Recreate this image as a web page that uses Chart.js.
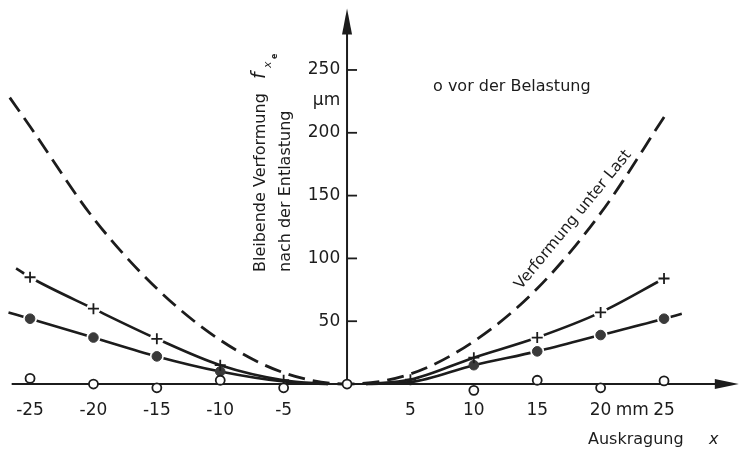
<!DOCTYPE html>
<html>
<head>
<meta charset="utf-8">
<script src="https://cdn.jsdelivr.net/npm/chart.js@4/dist/chart.umd.min.js"></script>
<style>
html, body { margin: 0; padding: 0; background: #fff; }
canvas { display: block; }
</style>
</head>
<body>
<canvas id="chart" width="742" height="452"></canvas>
<script>
// Achsenbeschriftung
const xTickValues = [-25, -20, -15, -10, -5, 5, 10, 15, 20, 25]
const yTickValues = [50, 100, 150, 200, 250]

// Verformung unter Last (gestrichelte Kurve)
const lastX = [-26.6, -25, -20, -15, -10, -5, 0, 5, 10, 15, 20, 25.1]
const lastY = [228, 205, 132, 76, 35, 9, 0, 8, 34, 76, 136, 214]

// Kreuze (+)
const plusX = [-25, -20, -15, -10, -5, 5, 10, 15, 20, 25]
const plusY = [85, 60, 36, 15, 3, 3.5, 21, 37, 57, 84]
// Linie durch die Kreuze (mit Auslauf)
const plusLineX = [-26.1, -25, -20, -15, -10, -5, -1.5, null, 1.5, 5, 10, 15, 20, 25]
const plusLineY = [92, 85, 60, 36, 15, 3, 0, null, 0, 3.5, 21, 37, 57, 84]

// Punkte (gefüllt)
const dotX = [-25, -20, -15, -10, 10, 15, 20, 25]
const dotY = [52, 37, 22, 10, 15, 26, 39, 52]
const dotLineX = [-26.7, -25, -20, -15, -10, -5, -1.5, null, 1.5, 5, 10, 15, 20, 25, 26.4]
const dotLineY = [57, 52, 37, 22, 10, 2, 0, null, 0, 1.5, 15, 26, 39, 52, 56]

// vor der Belastung (offene Kreise)
const vorX = [-25, -20, -15, -10, -5, 0, 10, 15, 20, 25]
const vorY = [4.5, 0, -3, 3, -3, 0, -5, 3, -3, 2.5]

const ink = '#1c1c1c'
const fontFam = '"DejaVu Sans", sans-serif'

function toPoints(xs, ys) {
	return xs.map((x, i) => (x === null ? { x: NaN, y: NaN } : { x: x, y: ys[i] }))
}

// weiße Lücken um die Marker (nur wo die Linien frei stehen)
const maskPoints = toPoints(plusX, plusY).concat(toPoints(dotX, dotY))
	.filter(p => Math.abs(p.x) >= 15)

// Achsen in der Mitte sollen keinen Platz wegnehmen
function noSpace(s) {
	if (s.isHorizontal()) s.height = 0
	else s.width = 0
	s.paddingLeft = 0
	s.paddingRight = 0
	s.paddingTop = 0
	s.paddingBottom = 0
}

// Achsen, Pfeile und Texte
const decor = {
	id: 'decor',
	beforeDatasetsDraw(chart) {
		const ctx = chart.ctx
		const xs = chart.scales.x
		const ys = chart.scales.y
		const x0 = xs.getPixelForValue(0)
		const y0 = ys.getPixelForValue(0)
		ctx.save()
		ctx.strokeStyle = ink
		ctx.fillStyle = ink
		ctx.lineWidth = 2
		// x-Achse
		const xl = xs.getPixelForValue(-26.45)
		const xr = xs.getPixelForValue(30.9)
		ctx.beginPath()
		ctx.moveTo(xl, y0)
		ctx.lineTo(xr - 10, y0)
		ctx.stroke()
		ctx.beginPath()
		ctx.moveTo(xr, y0)
		ctx.lineTo(xr - 24, y0 - 5)
		ctx.lineTo(xr - 24, y0 + 5)
		ctx.closePath()
		ctx.fill()
		// y-Achse
		const yt = ys.getPixelForValue(299)
		ctx.beginPath()
		ctx.moveTo(x0, y0)
		ctx.lineTo(x0, yt + 10)
		ctx.stroke()
		ctx.beginPath()
		ctx.moveTo(x0, yt)
		ctx.lineTo(x0 - 5, yt + 26)
		ctx.lineTo(x0 + 5, yt + 26)
		ctx.closePath()
		ctx.fill()
		// Teilstriche rechts der y-Achse
		ctx.lineWidth = 1.8
		yTickValues.forEach(v => {
			const py = ys.getPixelForValue(v)
			ctx.beginPath()
			ctx.moveTo(x0, py)
			ctx.lineTo(x0 + 10, py)
			ctx.stroke()
		})
		ctx.restore()
	},
	afterDraw(chart) {
		const ctx = chart.ctx
		ctx.save()
		ctx.fillStyle = ink
		ctx.textBaseline = 'alphabetic'
		ctx.textAlign = 'left'

		// Legende
		ctx.font = '16px ' + fontFam
		ctx.fillText('o vor der Belastung', 433, 91)

		// x-Achsentitel
		ctx.fillText('Auskragung', 588, 444)
		ctx.font = 'italic 16px ' + fontFam
		ctx.fillText('x', 709, 444)

		// y-Achsentitel (gedreht)
		ctx.save()
		ctx.translate(265, 272)
		ctx.rotate(-Math.PI / 2)
		ctx.font = '16px ' + fontFam
		ctx.fillText('Bleibende Verformung', 0, 0)
		ctx.font = 'italic 19px ' + fontFam
		ctx.fillText('f', 193, 0)
		ctx.font = 'italic 11px ' + fontFam
		ctx.fillText('x', 204, 6)
		ctx.font = 'bold 8px ' + fontFam
		ctx.fillText('e', 213, 12)
		ctx.font = '16px ' + fontFam
		ctx.fillText('nach der Entlastung', 0, 25)
		ctx.restore()

		// Beschriftung der Kurve
		ctx.save()
		ctx.translate(521, 290)
		ctx.rotate(-50.7 * Math.PI / 180)
		ctx.font = '15.5px ' + fontFam
		ctx.fillText('Verformung unter Last', 0, 0)
		ctx.restore()

		ctx.restore()
	}
}

new Chart(document.getElementById('chart'), {
	type: 'scatter',
	data: {
		datasets: [
			{
				// vor der Belastung
				data: toPoints(vorX, vorY),
				pointStyle: 'circle',
				pointRadius: 4.5,
				pointBackgroundColor: '#fff',
				pointBorderColor: ink,
				pointBorderWidth: 1.8,
				showLine: false,
				clip: false
			},
			{
				data: toPoints(plusX, plusY),
				pointStyle: 'cross',
				pointRadius: 5.5,
				pointBorderColor: ink,
				pointBorderWidth: 1.8,
				showLine: false,
				clip: false
			},
			{
				data: toPoints(dotX, dotY),
				pointStyle: 'circle',
				pointRadius: 4.8,
				pointBackgroundColor: '#3a3a3a',
				pointBorderColor: '#3a3a3a',
				pointBorderWidth: 1,
				showLine: false,
				clip: false
			},
			{
				// Lücken
				data: maskPoints,
				pointStyle: 'circle',
				pointRadius: 7,
				pointBackgroundColor: '#fff',
				pointBorderWidth: 0,
				pointBorderColor: '#fff',
				showLine: false,
				clip: false
			},
			{
				data: toPoints(plusLineX, plusLineY),
				showLine: true,
				spanGaps: false,
				pointRadius: 0,
				borderColor: ink,
				borderWidth: 2.6,
				cubicInterpolationMode: 'monotone',
				clip: false
			},
			{
				data: toPoints(dotLineX, dotLineY),
				showLine: true,
				spanGaps: false,
				pointRadius: 0,
				borderColor: ink,
				borderWidth: 2.6,
				cubicInterpolationMode: 'monotone',
				clip: false
			},
			{
				// Verformung unter Last
				data: toPoints(lastX, lastY),
				showLine: true,
				pointRadius: 0,
				borderColor: ink,
				borderWidth: 2.8,
				borderDash: [17, 8],
				cubicInterpolationMode: 'monotone',
				clip: false
			}
		]
	},
	options: {
		responsive: false,
		animation: false,
		layout: { padding: 0, autoPadding: false },
		plugins: {
			legend: { display: false },
			tooltip: { enabled: false }
		},
		scales: {
			x: {
				type: 'linear',
				min: -27.37,
				max: 31.15,
				position: { y: 0 },
				grid: { display: false, drawTicks: false },
				border: { display: false },
				afterFit: noSpace,
				afterBuildTicks: s => {
					s.ticks = xTickValues.concat([22.5]).sort((a, b) => a - b).map(v => ({ value: v }))
				},
				ticks: {
					autoSkip: false,
					maxRotation: 0,
					padding: 16,
					color: ink,
					font: { family: fontFam, size: 17 },
					callback: v => (v === 22.5 ? 'mm' : (v < 0 ? '-' + Math.abs(v) : String(v)))
				}
			},
			y: {
				type: 'linear',
				min: -54.1,
				max: 305.7,
				position: { x: 0 },
				grid: { display: false, drawTicks: false },
				border: { display: false },
				afterFit: noSpace,
				afterBuildTicks: s => {
					s.ticks = yTickValues.concat([226]).sort((a, b) => a - b).map(v => ({ value: v }))
				},
				ticks: {
					autoSkip: false,
					color: ink,
					font: { family: fontFam, size: 17 },
					// Abstand zur Achse über schmale Leerzeichen
					callback: v => (v === 226 ? 'µm' : String(v)) + '\u2009\u2009'
				}
			}
		}
	},
	plugins: [decor]
})
</script>
</body>
</html>
